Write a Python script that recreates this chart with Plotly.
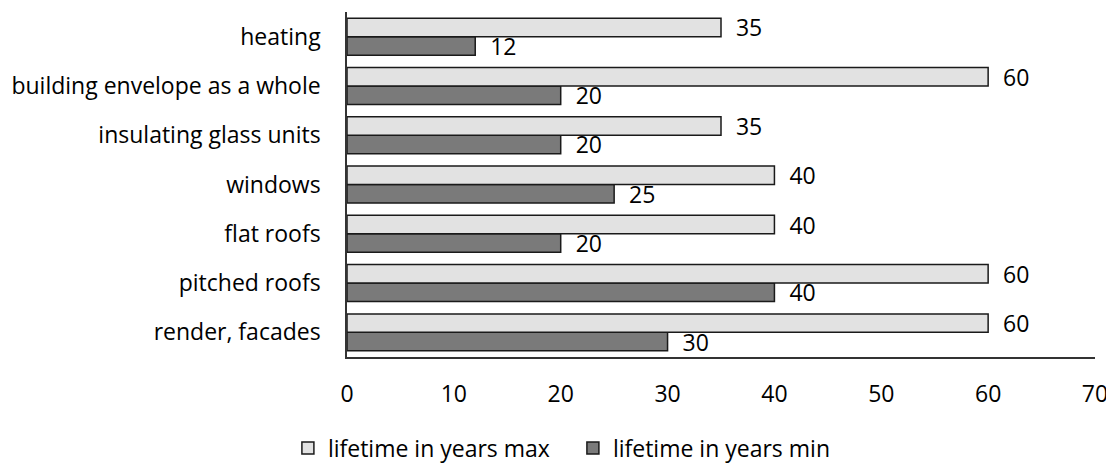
import plotly.graph_objects as go

categories = ["heating", "building envelope as a whole", "insulating glass units",
              "windows", "flat roofs", "pitched roofs", "render, facades"]
max_years = [35, 60, 35, 40, 40, 60, 60]
min_years = [12, 20, 20, 25, 20, 40, 30]
x_ticks = [0, 10, 20, 30, 40, 50, 60, 70]

FONT = "Open Sans"
FS = 23

fig = go.Figure()
fig.add_trace(go.Bar(
    y=categories, x=min_years, orientation="h", name="lifetime in years min",
    marker=dict(color="#7a7a7a", line=dict(color="#1a1a1a", width=1.5)),
    text=min_years, texttemplate="  %{x}", textposition="outside",
    constraintext="none",
    textfont=dict(size=FS, color="black", family=FONT), cliponaxis=False,
))
fig.add_trace(go.Bar(
    y=categories, x=max_years, orientation="h", name="lifetime in years max",
    marker=dict(color="#e2e2e2", line=dict(color="#1a1a1a", width=1.5)),
    text=max_years, texttemplate="  %{x}", textposition="outside",
    constraintext="none",
    textfont=dict(size=FS, color="black", family=FONT), cliponaxis=False,
))

fig.update_layout(
    width=1106, height=455,
    margin=dict(l=339, r=19, t=4, b=106, autoexpand=False),
    paper_bgcolor="white", plot_bgcolor="white",
    barmode="group", bargap=0.25, bargroupgap=0,
    font=dict(family=FONT, size=FS, color="black"),
    showlegend=True,
    legend=dict(orientation="h", traceorder="reversed", x=-0.079, xanchor="left",
                y=-0.264, yanchor="middle", font=dict(size=FS, family=FONT),
                entrywidth=240, entrywidthmode="pixels"),
)
fig.update_xaxes(range=[0, 70], tickvals=x_ticks, showgrid=False, zeroline=False,
                 showline=True, linecolor="#333333", linewidth=1.5, automargin=False,
                 ticks="", ticklabelstandoff=16, fixedrange=True)
fig.update_yaxes(categoryorder="array", categoryarray=categories[::-1],
                 showgrid=False, showline=True, linecolor="#333333", linewidth=1.5,
                 automargin=False, ticks="", ticklabelstandoff=20, fixedrange=True)

fig.write_html("out.html")
